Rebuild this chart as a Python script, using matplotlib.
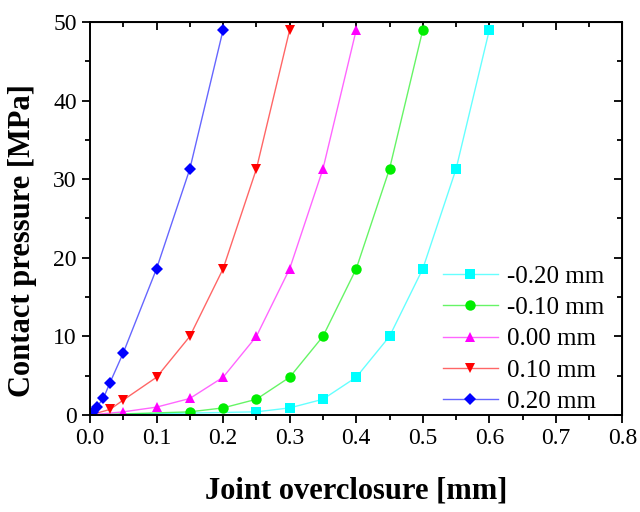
import matplotlib
matplotlib.use("Agg")
import matplotlib.pyplot as plt
from matplotlib.colors import to_rgba
from matplotlib.ticker import MultipleLocator, FormatStrFormatter

# overclosure [mm] vs contact pressure [MPa] for each clearance offset
x_m020 = [0.0, 0.25, 0.30, 0.35, 0.40, 0.45, 0.50, 0.55, 0.60]
y_m020 = [0.0, 0.4, 0.9, 2.0, 4.8, 10.0, 18.6, 31.3, 49.0]

x_m010 = [0.0, 0.15, 0.20, 0.25, 0.30, 0.35, 0.40, 0.45, 0.50]
y_m010 = [0.0, 0.4, 0.9, 2.0, 4.8, 10.0, 18.6, 31.3, 49.0]

x_000 = [0.0, 0.05, 0.10, 0.15, 0.20, 0.25, 0.30, 0.35, 0.40]
y_000 = [0.0, 0.4, 1.0, 2.1, 4.8, 10.0, 18.6, 31.3, 49.0]

x_p010 = [0.0, 0.03, 0.05, 0.10, 0.15, 0.20, 0.25, 0.30]
y_p010 = [0.0, 0.7, 1.9, 4.8, 10.0, 18.6, 31.3, 49.0]

x_p020 = [0.0, 0.005, 0.01, 0.02, 0.03, 0.05, 0.10, 0.15, 0.20]
y_p020 = [0.0, 0.4, 1.0, 2.1, 4.1, 7.9, 18.6, 31.3, 49.0]

labels = ["-0.20 mm", "-0.10 mm", "0.00 mm", "0.10 mm", "0.20 mm"]
colors = ["#00FFFF", "#00EE00", "#FF00FF", "#FF0000", "#0000FF"]
markers = ["s", "o", "^", "v", "D"]

plt.rcParams["font.family"] = ["Liberation Serif", "DejaVu Serif"]

fig = plt.figure(figsize=(6.4, 5.12), dpi=100)
ax = fig.add_axes([0.1406, 0.1895, 0.832, 0.7675])

series = [(x_m020, y_m020), (x_m010, y_m010), (x_000, y_000),
          (x_p010, y_p010), (x_p020, y_p020)]
for (xs, ys), lab, c, mk in zip(series, labels, colors, markers):
    ms = 6.5 if mk == "D" else 7.5
    # lighter connecting line, solid markers
    ax.plot(xs, ys, color=to_rgba(c, 0.6), lw=1.0, marker=mk, ms=ms,
            mfc=c, mec=c, markeredgewidth=0, label=lab)

ax.set_xlim(0, 0.8)
ax.set_ylim(0, 50)
ax.xaxis.set_major_locator(MultipleLocator(0.1))
ax.xaxis.set_minor_locator(MultipleLocator(0.05))
ax.yaxis.set_major_locator(MultipleLocator(10))
ax.yaxis.set_minor_locator(MultipleLocator(5))
ax.xaxis.set_major_formatter(FormatStrFormatter("%.1f"))

ax.tick_params(which="major", direction="out", length=6, width=1.3, labelsize=17)
ax.tick_params(which="minor", direction="out", length=3.5, width=1.3)
for sp in ax.spines.values():
    sp.set_linewidth(1.4)

# inward ticks on the mirrored top/right axes
top = ax.secondary_xaxis("top")
top.xaxis.set_major_locator(MultipleLocator(0.1))
top.xaxis.set_minor_locator(MultipleLocator(0.05))
top.tick_params(which="major", direction="in", length=6, width=1.3, labeltop=False)
top.tick_params(which="minor", direction="in", length=3.5, width=1.3)
right = ax.secondary_yaxis("right")
right.yaxis.set_major_locator(MultipleLocator(10))
right.yaxis.set_minor_locator(MultipleLocator(5))
right.tick_params(which="major", direction="in", length=6, width=1.3, labelright=False)
right.tick_params(which="minor", direction="in", length=3.5, width=1.3)

ax.set_xlabel("Joint overclosure [mm]", fontsize=22, fontweight="bold", labelpad=20)
ax.set_ylabel("Contact pressure [MPa]", fontsize=22, fontweight="bold")
ax.yaxis.set_label_coords(-0.10, 0.445)

ax.legend(loc="lower right", frameon=False, fontsize=18, handlelength=2.2,
          handletextpad=0.35, labelspacing=0.35, borderaxespad=0.0,
          bbox_to_anchor=(0.984, -0.02))

fig.savefig("out.png", dpi=100)
